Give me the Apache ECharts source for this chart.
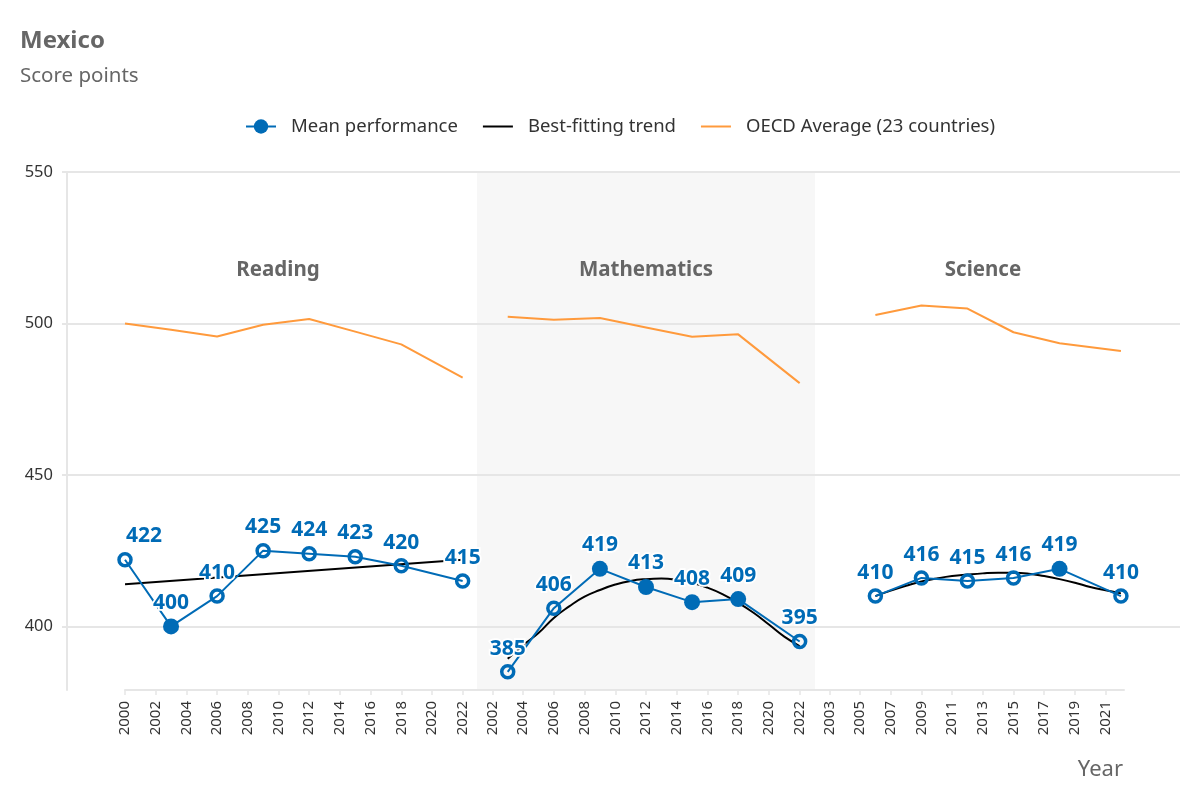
<!DOCTYPE html>
<html><head><meta charset="utf-8">
<script src="https://cdn.jsdelivr.net/npm/echarts@6/dist/echarts.min.js"></script>
<style>html,body{margin:0;padding:0;background:#fff}#c{width:1200px;height:800px}</style>
</head><body><div id="c"></div>
<script>
// ---------- data ----------
const subjects = ['Reading', 'Mathematics', 'Science'];

const readingYears = [2000, 2003, 2006, 2009, 2012, 2015, 2018, 2022];
const readingMean  = [422, 400, 410, 425, 424, 423, 420, 415];
const readingSig   = [false, true, false, false, false, false, false, false];
const readingTrendYears = [2000, 2022];
const readingTrend = [413.9, 422.0];
const readingOecd  = [500.0, 497.9, 495.7, 499.6, 501.5, 497.3, 493.1, 482.1];

const mathYears = [2003, 2006, 2009, 2012, 2015, 2018, 2022];
const mathMean  = [385, 406, 419, 413, 408, 409, 395];
const mathSig   = [false, false, true, true, true, true, false];
const mathTrendYears = [2003, 2004, 2005, 2006, 2007, 2008, 2009, 2010, 2011, 2012,
                        2013, 2014, 2015, 2016, 2017, 2018, 2019, 2020, 2021, 2022];
const mathTrend = [389.3, 393.8, 397.8, 402.8, 406.6, 409.8, 412.0, 413.8, 415.0, 415.6,
                   415.8, 415.4, 414.4, 412.8, 410.6, 407.8, 404.5, 400.6, 396.6, 393.5];
const mathOecd  = [502.2, 501.2, 501.8, 498.7, 495.6, 496.4, 480.3];

const scienceYears = [2006, 2009, 2012, 2015, 2018, 2022];
const scienceMean  = [410, 416, 415, 416, 419, 410];
const scienceSig   = [false, false, false, false, true, false];
const scienceTrendYears = [2006, 2007, 2008, 2009, 2010, 2011, 2012, 2013, 2014,
                           2015, 2016, 2017, 2018, 2019, 2020, 2021, 2022];
const scienceTrend = [410.0, 411.8, 413.4, 414.8, 415.8, 416.6, 417.1, 417.5, 417.7,
                      417.7, 417.4, 416.6, 415.6, 414.4, 413.0, 411.9, 410.9];
const scienceOecd  = [502.8, 505.9, 504.9, 497.1, 493.5, 490.9];

const readingTicks = [2000, 2002, 2004, 2006, 2008, 2010, 2012, 2014, 2016, 2018, 2020, 2022];
const mathTicks    = [2002, 2004, 2006, 2008, 2010, 2012, 2014, 2016, 2018, 2020, 2022];
const scienceTicks = [2003, 2005, 2007, 2009, 2011, 2013, 2015, 2017, 2019, 2021];
const yTicks = [400, 450, 500, 550];

// ---------- styling ----------
const FONT = '"Noto Sans", "Open Sans", sans-serif';
const BLUE = '#006bb6';
const ORANGE = '#ff9a3c';
const GRID = '#e6e6e6';
const Y_MIN = 379, Y_MAX = 550;
const TOP = 172, HEIGHT = 518;

const panels = [
  {years: readingYears, mean: readingMean, sig: readingSig, tY: readingTrendYears, t: readingTrend, oecd: readingOecd,
   ticks: readingTicks, left: 125, width: 353, min: 2000, max: 2023, smooth: false, labelX: 278},
  {years: mathYears, mean: mathMean, sig: mathSig, tY: mathTrendYears, t: mathTrend, oecd: mathOecd,
   ticks: mathTicks, left: 477, width: 338, min: 2001, max: 2023, smooth: true, labelX: 646, bg: '#f7f7f7'},
  {years: scienceYears, mean: scienceMean, sig: scienceSig, tY: scienceTrendYears, t: scienceTrend, oecd: scienceOecd,
   ticks: scienceTicks, left: 814, width: 310, min: 2002, max: 2022.2, smooth: true, labelX: 983}
];

const grids = [{left: 67, top: TOP, width: 1113, height: HEIGHT, containLabel: false}];
const xAxes = [{gridIndex: 0, type: 'value', min: 0, max: 1, show: false}];
const yAxes = [{
  gridIndex: 0, type: 'value', min: Y_MIN, max: Y_MAX,
  axisLine: {show: true, lineStyle: {color: GRID, width: 2}},
  axisTick: {show: true, length: 5, lineStyle: {color: GRID, width: 2}, customValues: yTicks},
  axisLabel: {customValues: yTicks, color: '#333', fontSize: 16.5, fontFamily: FONT, margin: 14},
  splitLine: {show: true, lineStyle: {color: GRID, width: 2}}
}];
const series = [];

panels.forEach((p, i) => {
  const gi = i + 1;
  grids.push(Object.assign({left: p.left, top: TOP, width: p.width, height: HEIGHT},
    p.bg ? {show: true, backgroundColor: p.bg, borderWidth: 0} : {}));
  xAxes.push({
    gridIndex: gi, type: 'value', min: p.min, max: p.max,
    axisLine: {show: true, lineStyle: {color: GRID, width: 2}},
    axisTick: {show: true, length: 5, lineStyle: {color: GRID, width: 1.5}, customValues: p.ticks},
    axisLabel: {customValues: p.ticks, rotate: 90, color: '#333', fontSize: 15, fontFamily: FONT, margin: 11,
      formatter: v => String(v)},
    splitLine: {show: false}
  });
  yAxes.push({gridIndex: gi, type: 'value', min: Y_MIN, max: Y_MAX, show: false, splitLine: {show: false}});

  series.push({
    name: 'OECD Average (23 countries)', type: 'line', xAxisIndex: gi, yAxisIndex: gi,
    data: p.years.map((y, k) => [y, p.oecd[k]]), symbol: 'none', z: 2,
    lineStyle: {color: ORANGE, width: 2}, itemStyle: {color: ORANGE}
  });
  series.push({
    name: 'Best-fitting trend', type: 'line', xAxisIndex: gi, yAxisIndex: gi, z: 2,
    data: p.tY.map((y, k) => [y, p.t[k]]), symbol: 'none', smooth: p.smooth,
    lineStyle: {color: '#000', width: 2}, itemStyle: {color: '#000'}
  });
  series.push({
    name: 'Mean performance', type: 'line', xAxisIndex: gi, yAxisIndex: gi, z: 3,
    symbol: 'circle', symbolSize: 14,
    lineStyle: {color: BLUE, width: 2}, itemStyle: {color: BLUE},
    data: p.years.map((y, k) => ({
      value: [y, p.mean[k]],
      symbolSize: p.sig[k] ? 16 : 12,
      itemStyle: p.sig[k] ? {color: BLUE} : {color: 'rgba(255,255,255,0)', borderColor: BLUE, borderWidth: 3.5},
      label: (i === 0 && k === 0) ? {offset: [19, 0]} : {}
    })),
    label: {show: true, position: 'top', distance: 5, color: BLUE, fontSize: 21, fontWeight: 'bold',
      fontFamily: FONT, textBorderColor: '#fff', textBorderWidth: 3.5,
      formatter: d => String(Math.round(d.value[1]))}
  });
});

const chart = echarts.init(document.getElementById('c'), null, {renderer: 'canvas'});
chart.setOption({
  backgroundColor: '#fff',
  animation: false,
  title: {text: 'Mexico', subtext: 'Score points', left: 15, top: 24, itemGap: 13,
    textStyle: {fontSize: 24, fontWeight: 'bold', color: '#666', fontFamily: FONT},
    subtextStyle: {fontSize: 20.5, color: '#666', fontFamily: FONT}},
  legend: {
    top: 112, left: 240, itemWidth: 30, itemHeight: 18, itemGap: 24,
    data: [
      {name: 'Mean performance'},
      {name: 'Best-fitting trend', itemStyle: {color: 'rgba(0,0,0,0)', borderWidth: 0}},
      {name: 'OECD Average (23 countries)', itemStyle: {color: 'rgba(0,0,0,0)', borderWidth: 0}}
    ],
    textStyle: {fontSize: 18.5, color: '#333', fontFamily: FONT, padding: [0, 0, 0, 10]}
  },
  grid: grids, xAxis: xAxes, yAxis: yAxes, series: series,
  graphic: subjects.map((s, i) => ({
    type: 'text', x: panels[i].labelX, y: 270, z: 10,
    style: {text: s, font: 'bold 20.5px ' + FONT, fill: '#666', align: 'center', verticalAlign: 'middle',
      shadowColor: 'rgba(255,255,255,1)', shadowBlur: 4}
  })).concat([{
    type: 'text', x: 1123, y: 770, style: {text: 'Year', font: '22px ' + FONT, fill: '#666', align: 'right', verticalAlign: 'middle'}
  }])
});
</script></body></html>
